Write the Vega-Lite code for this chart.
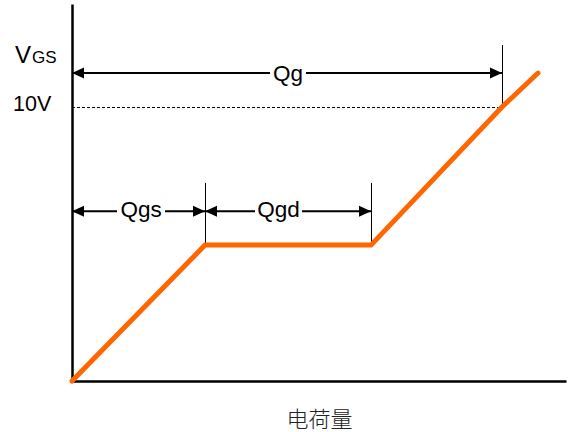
{
  "$schema": "https://vega.github.io/schema/vega-lite/v6.json",
  "width": 494,
  "height": 377,
  "autosize": "none",
  "padding": {"left": 72, "top": 4, "right": 12, "bottom": 51},
  "background": "white",
  "config": {
    "view": {"stroke": null},
    "axis": {"grid": false, "ticks": false, "labels": false, "domainColor": "black", "domainWidth": 2.5}
  },
  "datasets": {
    "curve": [
      {"q": 0, "v": 0},
      {"q": 133, "v": 4.96},
      {"q": 299, "v": 4.96},
      {"q": 430, "v": 10},
      {"q": 466, "v": 11.24}
    ],
    "arrows": [
      {"q": 0, "q2": 198, "v": 11.24},
      {"q": 234, "q2": 430, "v": 11.24},
      {"q": 0, "q2": 45, "v": 6.2},
      {"q": 93, "q2": 133, "v": 6.2},
      {"q": 133, "q2": 183, "v": 6.2},
      {"q": 230, "q2": 299, "v": 6.2}
    ],
    "ticks": [
      {"q": 133, "v": 4.96, "v2": 7.23},
      {"q": 299, "v": 4.96, "v2": 7.23},
      {"q": 430, "v": 10, "v2": 12.26}
    ],
    "dash": [
      {"q": 0, "q2": 430, "v": 10}
    ],
    "heads": [
      {"q": 0, "v": 11.24, "dir": "left"},
      {"q": 430, "v": 11.24, "dir": "right"},
      {"q": 0, "v": 6.2, "dir": "left"},
      {"q": 133, "v": 6.2, "dir": "right"},
      {"q": 133, "v": 6.2, "dir": "left"},
      {"q": 299, "v": 6.2, "dir": "right"}
    ],
    "labels": [
      {"q": 216, "v": 10.95, "text": "Qg", "role": "q"},
      {"q": 69, "v": 5.99, "text": "Qgs", "role": "q"},
      {"q": 206.5, "v": 5.99, "text": "Qgd", "role": "q"},
      {"q": -57, "v": 11.61, "text": "V", "role": "vmain"},
      {"q": -40, "v": 11.61, "text": "GS", "role": "vsub"},
      {"q": -59, "v": 9.85, "text": "10V", "role": "tick"}
    ]
  },
  "encoding": {
    "x": {"field": "q", "type": "quantitative", "scale": {"domain": [0, 494], "nice": false, "zero": false},
      "axis": {"title": "电荷量", "titleFont": "Noto Sans CJK SC", "titleFontSize": 22, "titleFontWeight": 300, "titleColor": "#222222", "titlePadding": 28}},
    "y": {"field": "v", "type": "quantitative", "scale": {"domain": [0, 13.76], "nice": false, "zero": false},
      "axis": {"title": null}}
  },
  "layer": [
    {
      "data": {"name": "dash"},
      "mark": {"type": "rule", "color": "black", "strokeWidth": 1, "strokeDash": [3, 2], "yOffset": 0.5},
      "encoding": {"x2": {"field": "q2"}}
    },
    {
      "data": {"name": "ticks"},
      "mark": {"type": "rule", "color": "black", "strokeWidth": 1, "xOffset": 0.5},
      "encoding": {"y2": {"field": "v2"}}
    },
    {
      "data": {"name": "arrows"},
      "mark": {"type": "rule", "color": "black", "strokeWidth": 2},
      "encoding": {"x2": {"field": "q2"}}
    },
    {
      "data": {"name": "heads"},
      "mark": {"type": "point", "filled": true, "color": "black", "opacity": 1, "size": 144, "strokeWidth": 0},
      "encoding": {
        "shape": {"field": "dir", "type": "nominal", "legend": null,
          "scale": {"domain": ["left", "right"], "range": ["M0,0L2,-0.917L2,0.917Z", "M0,0L-2,-0.917L-2,0.917Z"]}}
      }
    },
    {
      "data": {"name": "curve"},
      "mark": {"type": "line", "color": "#FF6600", "strokeWidth": 5, "strokeCap": "round", "strokeJoin": "miter"}
    },
    {
      "data": {"name": "labels"},
      "transform": [{"filter": "datum.role === 'q'"}],
      "mark": {"type": "text", "font": "Liberation Sans", "fontSize": 22.5, "align": "center", "baseline": "alphabetic", "color": "black"},
      "encoding": {"text": {"field": "text"}}
    },
    {
      "data": {"name": "labels"},
      "transform": [{"filter": "datum.role === 'vmain'"}],
      "mark": {"type": "text", "font": "Liberation Sans", "fontSize": 24, "align": "left", "baseline": "alphabetic", "color": "black"},
      "encoding": {"text": {"field": "text"}}
    },
    {
      "data": {"name": "labels"},
      "transform": [{"filter": "datum.role === 'vsub'"}],
      "mark": {"type": "text", "font": "Liberation Sans", "fontSize": 17, "align": "left", "baseline": "alphabetic", "color": "black"},
      "encoding": {"text": {"field": "text"}}
    },
    {
      "data": {"name": "labels"},
      "transform": [{"filter": "datum.role === 'tick'"}],
      "mark": {"type": "text", "font": "Liberation Sans", "fontSize": 21.5, "align": "left", "baseline": "alphabetic", "color": "black"},
      "encoding": {"text": {"field": "text"}}
    }
  ]
}
